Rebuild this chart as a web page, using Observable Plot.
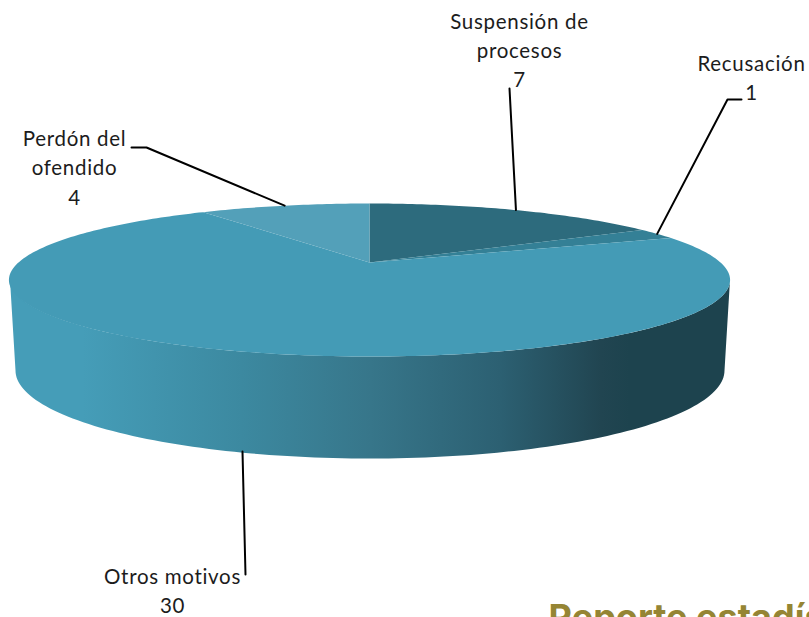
<!DOCTYPE html>
<html><head><meta charset="utf-8">
<script src="https://cdn.jsdelivr.net/npm/d3@7"></script>
<script src="https://cdn.jsdelivr.net/npm/@observablehq/plot@0.6"></script>
<style>html,body{margin:0;padding:0;background:#fff;overflow:hidden}svg{display:block}.lbl text{letter-spacing:.7px}</style>
</head><body><div id="chart"></div>
<script>
// Data, clockwise from 12 o'clock
const categories = ["Suspensión de\nprocesos", "Recusación", "Otros motivos", "Perdón del\nofendido"];
const values = [7, 1, 30, 4];
const sliceColors = ["#2d6b7d", "#348096", "#449bb6", "#53a0b9"];
const footerText = "Reporte estadístico";

// Label placement (annotation layout)
const labelX = [519, 751, 172, 74];
const labelY = [48, 75.5, 588.5, 165.5];
// Leader line elbows, after the rim anchor
const elbows = [[[509, 88]], [[727, 99], [741, 99]], [[245, 574]], [[146, 147], [131, 147]]];

// Perspective projection of the tilted disc
const CX = 369, CY = 262, A = 351, B = 72.5, K = -0.229;
const proj = (t) => {
  const u = Math.sin(t), v = -Math.cos(t), d = 1 + K * v;
  return [CX + A * u / d, CY + B * v / d];
};
const arcs = d3.pie().sort(null)(values);
const slicePts = [];
categories.forEach((c, i) => {
  const {startAngle: a0, endAngle: a1} = arcs[i];
  slicePts.push({name: c, p: [CX, CY]});
  const n = Math.max(8, Math.ceil((a1 - a0) * 60));
  for (let j = 0; j <= n; j++) slicePts.push({name: c, p: proj(a0 + (a1 - a0) * j / n)});
});

// Side wall: front half of top rim joined to front half of bottom rim
const wall = [];
const EX = 369.5, TOPY = 279.5, TOPRX = 360, TOPRY = 76.5, BOTY = 370, BOTRX = 354.5, BOTRY = 88;
for (let j = 0; j <= 120; j++) { const t = Math.PI * j / 120; wall.push([EX + TOPRX * Math.cos(t), TOPY + TOPRY * Math.sin(t)]); }
for (let j = 120; j >= 0; j--) { const t = Math.PI * j / 120; wall.push([EX + BOTRX * Math.cos(t), BOTY + BOTRY * Math.sin(t)]); }

// Leader lines start at the slice midpoint on the rim; the large slice's starts on the lower rim
const leaders = [];
categories.forEach((c, i) => {
  const mid = (arcs[i].startAngle + arcs[i].endAngle) / 2;
  let p = proj(mid);
  if (i === 2) p = [242, BOTY + BOTRY * Math.sqrt(1 - ((242 - EX) / BOTRX) ** 2) - 1];
  [p, ...elbows[i]].forEach((q) => leaders.push({name: c, p: q}));
});

const labels = categories.map((c, i) => ({text: c + "\n" + values[i], x: labelX[i], y: labelY[i]}));
const font = "Lato, Carlito, Calibri, sans-serif";

const plot = Plot.plot({
  width: 809, height: 617, margin: 0,
  style: {background: "#fff", overflow: "hidden"},
  x: {axis: null, domain: [0, 809], range: [0, 809]},
  y: {axis: null, domain: [0, 617], range: [0, 617]},
  color: {domain: categories, range: sliceColors},
  marks: [
    Plot.line(wall, {x: d => d[0], y: d => d[1], fill: "url(#wallGrad)", stroke: "none"}),
    Plot.line(slicePts, {x: d => d.p[0], y: d => d.p[1], z: "name", fill: "name", stroke: "none"}),
    Plot.line(leaders, {x: d => d.p[0], y: d => d.p[1], z: "name", stroke: "#000", strokeWidth: 2}),
    Plot.text(labels, {x: "x", y: "y", text: "text", lineHeight: 1.43, fontSize: 20.5, fontFamily: font, fill: "#1c1c1c", lineAnchor: "middle", textAnchor: "middle", className: "lbl"}),
    Plot.text([footerText], {x: () => 548, y: () => 629, text: d => d, textAnchor: "start", lineAnchor: "bottom", fontSize: 36, fontWeight: 700, fontFamily: "Inter, Lato, sans-serif", fill: "#958534"})
  ]
});
const ns = "http://www.w3.org/2000/svg";
const defs = document.createElementNS(ns, "defs");
const g = document.createElementNS(ns, "linearGradient");
g.setAttribute("id", "wallGrad"); g.setAttribute("gradientUnits", "userSpaceOnUse");
g.setAttribute("x1", 10); g.setAttribute("x2", 730); g.setAttribute("y1", 0); g.setAttribute("y2", 0);
[[0.1, "#459db8"], [0.32, "#3c89a0"], [0.5, "#37768a"], [0.68, "#2c6072"], [0.82, "#214551"], [0.86, "#1d434e"], [1, "#1d434e"]].forEach(([o, c]) => {
  const s = document.createElementNS(ns, "stop");
  s.setAttribute("offset", o); s.setAttribute("stop-color", c); g.appendChild(s);
});
defs.appendChild(g); plot.insertBefore(defs, plot.firstChild);
document.getElementById("chart").appendChild(plot);
</script></body></html>
